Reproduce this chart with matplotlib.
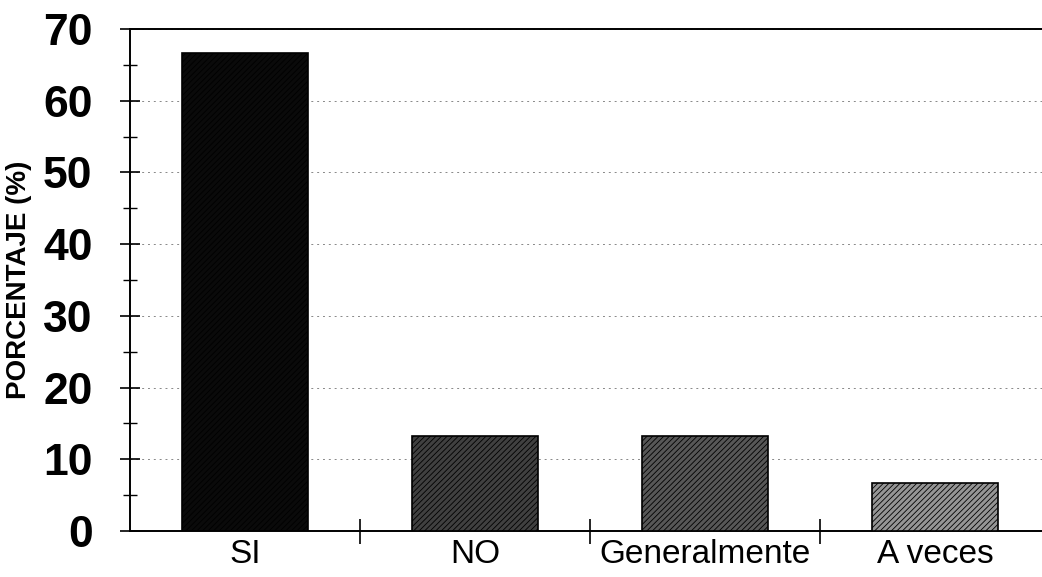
import numpy as np
import matplotlib.pyplot as plt
from matplotlib.ticker import MultipleLocator

# datos
categorias = ['SI', 'NO', 'Generalmente', 'A veces']
porcentajes = [66.7, 13.3, 13.3, 6.7]
colores = ['#0a0a0a', '#404040', '#575757', '#959595']

plt.rcParams['font.family'] = ['Liberation Sans', 'DejaVu Sans']
plt.rcParams['hatch.linewidth'] = 0.6

fig = plt.figure(figsize=(10.42, 5.77), dpi=100)
ax = fig.add_axes([130/1042, 1 - 531/577, (1042-130)/1042, (531-29)/577])

x = np.arange(len(categorias))
ax.bar(x, porcentajes, width=0.55, color=colores, edgecolor='black',
       linewidth=1.2, hatch='//////', zorder=3)

ax.set_xlim(-0.5, 3.465)
ax.set_ylim(0, 70)

# ticks x en los limites de categoria
ax.set_xticks([0.5, 1.5, 2.5], minor=False)
ax.set_xticklabels([])
ax.set_xticks(x, minor=True)
ax.set_xticklabels(categorias, minor=True, fontsize=24)
ax.tick_params(axis='x', which='major', direction='inout', length=18, width=1.2)
ax.tick_params(axis='x', which='minor', length=0, pad=6)

ax.yaxis.set_major_locator(MultipleLocator(10))
ax.yaxis.set_minor_locator(MultipleLocator(5))
ax.tick_params(axis='y', which='major', direction='inout', length=14, width=1.2,
               labelsize=32, pad=20)
ax.tick_params(axis='y', which='minor', direction='inout', length=10, width=1)
for t in ax.get_yticklabels():
    t.set_fontweight('bold')

ax.grid(axis='y', which='major', linestyle=(0, (2, 4)), color='#888888',
        linewidth=0.7, zorder=0)

for s in ['left', 'bottom', 'top']:
    ax.spines[s].set_linewidth(1.4)
ax.spines['right'].set_visible(False)

ax.set_ylabel('PORCENTAJE (%)', fontsize=20, fontweight='bold')
ax.yaxis.set_label_coords(-0.107, 0.5)

plt.savefig('out.png', dpi=100)
